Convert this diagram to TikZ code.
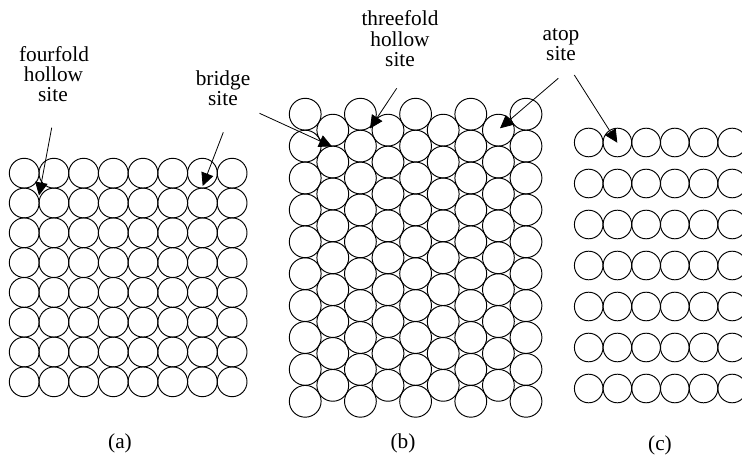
\documentclass[tikz,border=0pt]{standalone}
\usepackage{fontspec}
\setmainfont{Liberation Serif}
\usetikzlibrary{arrows.meta}
\begin{document}
\begin{tikzpicture}[x=1bp,y=-1bp,
  atom/.style={draw, line width=0.95bp},
  lbl/.style={anchor=base, inner sep=0pt, font=\fontsize{21.3bp}{20bp}\selectfont},
  pointer/.style={line width=0.8bp, -{Triangle[length=13bp,width=12.5bp]}}]
\useasboundingbox (0,0) rectangle (742,455);
\clip (0,0) rectangle (742,455);
% panel (a): square lattice
\foreach \i in {0,...,7} \foreach \j in {0,...,7}
  \draw[atom] ({24.2+29.7*\i},{173.2+29.8*\j}) circle[radius=14.9bp];
% panel (b): hexagonal lattice
\foreach \i in {0,2,4,6,8} \foreach \j in {0,...,9}
  \draw[atom] ({305.2+27.6*\i},{114.2+31.9*\j}) circle[radius=15.9bp];
\foreach \i in {1,3,5,7} \foreach \j in {0,...,8}
  \draw[atom] ({305.2+27.6*\i},{130.15+31.9*\j}) circle[radius=15.9bp];
% panel (c): rows
\foreach \i in {0,...,5} \foreach \j in {0,...,6}
  \draw[atom] ({588.7+28.7*\i},{142.5+41*\j}) circle[radius=14.3bp];
% labels
\node[lbl] (ff1) at (54,61.7) {fourfold};
\node[lbl] (ff2) at (53.5,81.7) {hollow};
\node[lbl] (ff3) at (53,101.7) {site};
\node[lbl] (br1) at (223,86) {bridge};
\node[lbl] (br2) at (223,106) {site};
\node[lbl] (tf1) at (400,26) {threefold};
\node[lbl] (tf2) at (400,46.7) {hollow};
\node[lbl] (tf3) at (400,66.7) {site};
\node[lbl] (at1) at (561,40.7) {atop};
\node[lbl] (at2) at (561,60.7) {site};
\node[lbl] (capa) at (120,448) {(a)};
\node[lbl] (capb) at (403,448) {(b)};
\node[lbl] (capc) at (660,450) {(c)};
% arrows
\coordinate (ffS) at (51.7,127.7);  \coordinate (ffT) at (39,195.5);
\coordinate (brS1) at (223.3,132.3); \coordinate (brT1) at (202.7,186);
\coordinate (brS2) at (259.5,113.3); \coordinate (brT2) at (332,146.5);
\coordinate (tfS) at (396.7,88.3);  \coordinate (tfT) at (370,128.5);
\coordinate (atS1) at (558.3,78.3); \coordinate (atT1) at (500,128.3);
\coordinate (atS2) at (574.3,75);   \coordinate (atT2) at (617.3,142.7);
\draw[pointer] (ffS) -- (ffT);
\draw[pointer] (brS1) -- (brT1);
\draw[pointer] (brS2) -- (brT2);
\draw[pointer] (tfS) -- (tfT);
\draw[pointer] (atS1) -- (atT1);
\draw[pointer] (atS2) -- (atT2);
\end{tikzpicture}
\end{document}
